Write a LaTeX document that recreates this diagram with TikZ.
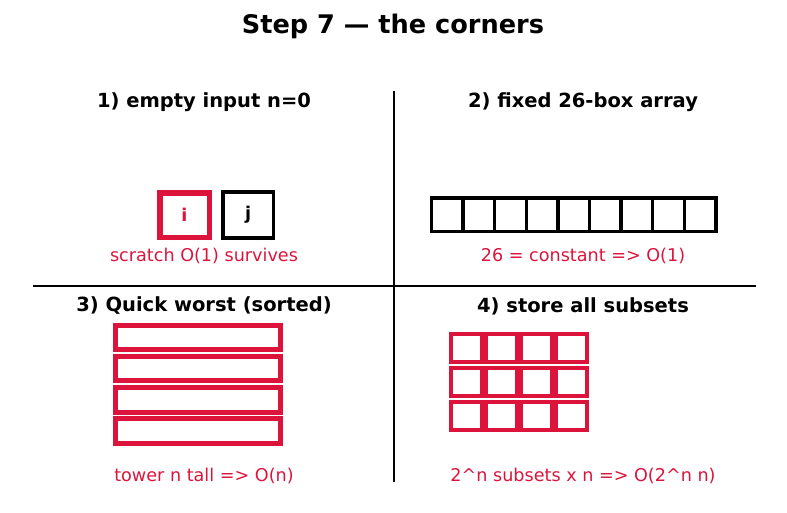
\documentclass[tikz,border=0pt]{standalone}
\usepackage{fontspec}
\setmainfont{DejaVu Sans}
\usetikzlibrary{positioning}
\definecolor{crimson}{RGB}{220, 20, 60}
\tikzstyle{title}=[font=\bfseries\fontsize{25.6}{30}\selectfont, inner sep=0pt]
\tikzstyle{heading}=[font=\bfseries\fontsize{19.5}{23}\selectfont, inner sep=0pt]
\tikzstyle{note}=[font=\fontsize{17.6}{21}\selectfont, text=crimson, inner sep=0pt]
\tikzstyle{slot}=[rectangle, draw, inner sep=0pt, font=\bfseries\fontsize{17.6}{21}\selectfont]
\tikzstyle{divider}=[line width=2.7pt, black]

\begin{document}
\begin{tikzpicture}[x=1pt, y=-1pt]
      %
      \path[use as bounding box] (0,0) rectangle (787,512);
      %
      % Title and dividing lines
      %
      \node[title] (title) at (393,26) {Step 7 — the corners};
      \coordinate (top) at (394,91);
      \coordinate (bottom) at (394,482);
      \coordinate (left) at (33,286);
      \coordinate (right) at (756,286);
      \draw[divider] (top) -- (bottom);
      \draw[divider] (left) -- (right);
      %
      % 1) empty input
      %
      \node[heading] (head1) at (204,102) {1) empty input n=0};
      \node[slot, draw=crimson, text=crimson, line width=5.5pt,
        minimum width=49.5pt, minimum height=44.5pt] (ivar) at (184.5,215) {i};
      \node[slot, line width=3.7pt, minimum width=50.5pt, minimum height=46pt,
        right=9pt of ivar] (jvar) {j};
      \node[note] (note1) at (204,256) {scratch O(1) survives};
      %
      % 2) fixed 26-box array
      %
      \node[heading] (head2) at (583,102) {2) fixed 26-box array};
      \foreach \k in {0,...,8}
        \node[slot, line width=3.5pt, minimum width=31.6pt, minimum height=33.5pt]
          (letter\k) at (447.3+31.6*\k,214.5) {};
      \node[note] (note2) at (583,256) {26 = constant => O(1)};
      %
      % 3) Quick worst (sorted)
      %
      \node[heading] (head3) at (204,306) {3) Quick worst (sorted)};
      \foreach \k in {0,...,3}
        \node[slot, draw=crimson, line width=5pt, minimum width=164.5pt,
          minimum height=24.5pt] (frame\k) at (198,337.5+31.2*\k) {};
      \node[note] (note3) at (204,476) {tower n tall => O(n)};
      %
      % 4) store all subsets
      %
      \node[heading] (head4) at (583,306) {4) store all subsets};
      \foreach \r in {0,1,2}
        \foreach \c in {0,...,3}
          \node[slot, draw=crimson, line width=4.2pt, minimum width=30.8pt,
            minimum height=28.3pt] (subset\r\c) at (466.5+35*\c,348+34*\r) {};
      \node[note] (note4) at (583,476) {2\^{}n subsets x n => O(2\^{}n n)};
      %
\end{tikzpicture}
\end{document}
